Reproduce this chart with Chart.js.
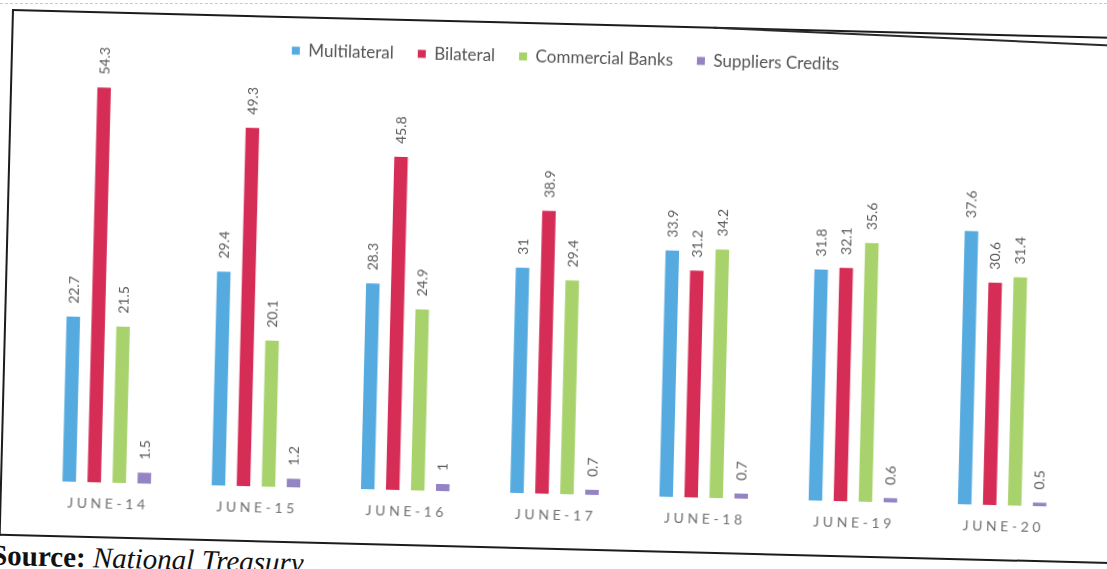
<!DOCTYPE html>
<html>
<head>
<meta charset="utf-8">
<script src="https://cdn.jsdelivr.net/npm/chart.js@4/dist/chart.umd.min.js"></script>
<style>
  html,body{margin:0;padding:0;background:#fff;overflow:hidden;width:1107px;height:569px;}
  .stripe{position:absolute;left:0;top:3px;width:1107px;height:1px;border-top:1px dashed #f0b8c4;}
  .sheet{position:absolute;left:12px;top:9px;transform-origin:0 0;transform:rotate(1.45deg);}
  .box{position:relative;width:1130px;height:527px;border:2px solid #1c1c1c;border-right:none;box-sizing:border-box;}
  .box canvas{position:absolute;left:0;top:0;}
  .extra{position:absolute;left:700px;top:-2px;width:420px;height:0;border-top:2px solid #2a2a2a;transform-origin:0 0;transform:rotate(1.1deg);}
  .source{position:absolute;left:-7px;top:530px;font-family:"Liberation Serif","DejaVu Serif",serif;font-size:29px;color:#111;white-space:nowrap;}
  .source b{font-weight:bold;}
  .source i{font-style:italic;}
</style>
</head>
<body>
<div class="stripe"></div>
<div class="sheet">
  <div class="box">
    <div class="extra"></div>
    <canvas id="debtChart" width="1110" height="523"></canvas>
  </div>
  <div class="source"><b>Source:</b> <i>National Treasury</i></div>
</div>
<script>
// Composition of external debt by creditor, share (%) at end of June
const periods = ['JUNE-14','JUNE-15','JUNE-16','JUNE-17','JUNE-18','JUNE-19','JUNE-20'];
const multilateral = [22.7, 29.4, 28.3, 31, 33.9, 31.8, 37.6];
const bilateral = [54.3, 49.3, 45.8, 38.9, 31.2, 32.1, 30.6];
const commercialBanks = [21.5, 20.1, 24.9, 29.4, 34.2, 35.6, 31.4];
const suppliersCredits = [1.5, 1.2, 1, 0.7, 0.7, 0.6, 0.5];

const FONT = 'Lato, "Open Sans", sans-serif';

// vertical value labels sitting just above each bar
const barValues = {
  id:'barValues',
  afterDatasetsDraw(chart){
    const ctx = chart.ctx;
    ctx.save();
    ctx.fillStyle = '#5a5a5a';
    ctx.font = '14px ' + FONT;
    ctx.textAlign = 'left';
    ctx.textBaseline = 'middle';
    chart.data.datasets.forEach((ds, i) => {
      const meta = chart.getDatasetMeta(i);
      meta.data.forEach((bar, j) => {
        ctx.save();
        ctx.translate(bar.x, bar.y - 13);
        ctx.rotate(-Math.PI/2);
        ctx.fillText(String(ds.data[j]), 0, 0);
        ctx.restore();
      });
    });
    ctx.restore();
  }
};

const bar = (label, data, color) => ({
  label, data, backgroundColor:color, borderWidth:0,
  categoryPercentage:0.67, barPercentage:0.54
});

new Chart(document.getElementById('debtChart'), {
  type:'bar',
  data:{
    labels:periods,
    datasets:[
      bar('Multilateral', multilateral, '#55aadf'),
      bar('Bilateral', bilateral, '#d52d55'),
      bar('Commercial Banks', commercialBanks, '#a8d36c'),
      bar('Suppliers Credits', suppliersCredits, '#9584c4')
    ]
  },
  options:{
    responsive:false,
    animation:false,
    layout:{padding:{top:0,bottom:11,left:30,right:35}},
    plugins:{
      legend:{
        position:'top',
        labels:{boxWidth:8, boxHeight:8, padding:24, color:'#555', font:{family:FONT, size:17}}
      },
      tooltip:{enabled:false}
    },
    scales:{
      x:{
        grid:{display:false, drawTicks:false},
        border:{display:false},
        ticks:{
          padding:13, color:'#707070', font:{family:FONT, size:14},
          callback:(v, i) => periods[i].split('').join(' ')
        }
      },
      y:{display:false, min:0, max:57.5}
    }
  },
  plugins:[barValues]
});
</script>
</body>
</html>
